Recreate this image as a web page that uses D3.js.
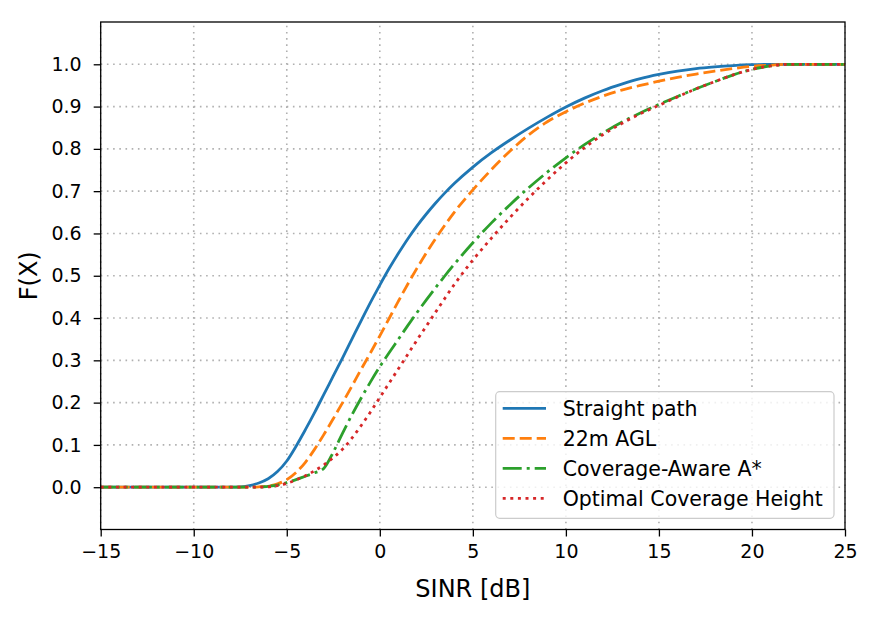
<!DOCTYPE html>
<html>
<head>
<meta charset="utf-8">
<script src="https://cdn.jsdelivr.net/npm/d3@7"></script>
<style>
  body { margin: 0; background: #fff; }
  svg { display: block; font-family: "DejaVu Sans", sans-serif; }
</style>
</head>
<body>
<div id="chart"></div>
<script>
// SINR sample points [dB]
const sinr = [-15, -10, -8, -7.5, -7, -6.5, -6, -5.5, -5, -4.5, -4, -3.5, -3, -2.5, -2, -1.5, -1, -0.5,
  0, 0.5, 1, 1.5, 2, 2.5, 3, 3.5, 4, 5, 6, 7, 8, 9, 10, 11, 12, 13, 14, 15, 16, 17, 18, 19, 20, 21, 22, 25];

// CDF values
const straightPath = [0, 0, 0, 0.001, 0.004, 0.01, 0.02, 0.037, 0.062, 0.097, 0.136, 0.177, 0.22, 0.263, 0.306, 0.35, 0.394, 0.437,
  0.478, 0.517, 0.553, 0.587, 0.618, 0.646, 0.672, 0.696, 0.718, 0.757, 0.791, 0.821, 0.849, 0.875, 0.899, 0.92, 0.938, 0.953, 0.966, 0.976, 0.984, 0.99, 0.994, 0.997, 0.999, 1, 1, 1];
const agl22m = [0, 0, 0, 0, 0, 0.001, 0.003, 0.008, 0.018, 0.035, 0.059, 0.09, 0.125, 0.162, 0.2, 0.239, 0.279, 0.318,
  0.358, 0.399, 0.44, 0.48, 0.518, 0.554, 0.588, 0.62, 0.65, 0.703, 0.751, 0.795, 0.833, 0.864, 0.888, 0.908, 0.925, 0.939, 0.95, 0.96, 0.969, 0.977, 0.984, 0.99, 0.995, 0.998, 1, 1];
const coverageAware = [0, 0, 0, 0, 0, 0, 0.002, 0.005, 0.011, 0.018, 0.026, 0.034, 0.045, 0.083, 0.128, 0.171, 0.211, 0.249,
  0.285, 0.318, 0.35, 0.382, 0.413, 0.443, 0.472, 0.5, 0.527, 0.578, 0.625, 0.668, 0.708, 0.745, 0.779, 0.81, 0.838, 0.863, 0.885, 0.905, 0.924, 0.942, 0.959, 0.975, 0.988, 0.996, 1, 1];
const optimalHeight = [0, 0, 0, 0, 0, 0, 0.001, 0.004, 0.009, 0.017, 0.027, 0.039, 0.053, 0.07, 0.09, 0.116, 0.146, 0.178,
  0.212, 0.246, 0.28, 0.314, 0.348, 0.381, 0.414, 0.447, 0.479, 0.537, 0.589, 0.638, 0.684, 0.727, 0.767, 0.803, 0.834, 0.86, 0.883, 0.903, 0.923, 0.942, 0.959, 0.975, 0.988, 0.996, 1, 1];

const seriesNames = ['Straight path', '22m AGL', 'Coverage-Aware A*', 'Optimal Coverage Height'];
const seriesValues = [straightPath, agl22m, coverageAware, optimalHeight];
const colors = ['#1f77b4', '#ff7f0e', '#2ca02c', '#d62728'];
const dashes = [null, '12,5', '19,5,3,5', '3,4.6'];

const xTicks = [-15, -10, -5, 0, 5, 10, 15, 20, 25];
const yTicks = [0, 0.1, 0.2, 0.3, 0.4, 0.5, 0.6, 0.7, 0.8, 0.9, 1.0];

const width = 873, height = 619;
const margin = { top: 22, right: 28, bottom: 89.5, left: 100.7 };

const svg = d3.select('#chart').append('svg')
  .attr('width', width)
  .attr('height', height);

const x = d3.scaleLinear().domain([-15, 25]).range([margin.left, width - margin.right]);
const y = d3.scaleLinear().domain([-0.1, 1.1]).range([height - margin.bottom, margin.top]);

// grid
const grid = svg.append('g');
grid.selectAll('.vgrid').data(xTicks).enter().append('line')
  .attr('x1', d => x(d)).attr('x2', d => x(d))
  .attr('y1', y(-0.1)).attr('y2', y(1.1))
  .attr('stroke', '#b0b0b0').attr('stroke-width', 1.6).attr('stroke-dasharray', '1.6,4.6');
grid.selectAll('.hgrid').data(yTicks).enter().append('line')
  .attr('y1', d => y(d)).attr('y2', d => y(d))
  .attr('x1', x(-15)).attr('x2', x(25))
  .attr('stroke', '#b0b0b0').attr('stroke-width', 1.6).attr('stroke-dasharray', '1.6,4.6');

// curves
const line = d3.line()
  .x(d => x(d[0]))
  .y(d => y(d[1]))
  .curve(d3.curveMonotoneX);

seriesValues.forEach((vals, i) => {
  svg.append('path')
    .datum(sinr.map((s, j) => [s, vals[j]]))
    .attr('fill', 'none')
    .attr('stroke', colors[i])
    .attr('stroke-width', 2.8)
    .attr('stroke-dasharray', dashes[i])
    .attr('d', line);
});

// axes
const xAxis = svg.append('g')
  .attr('transform', `translate(0,${y(-0.1)})`)
  .call(d3.axisBottom(x).tickValues(xTicks).tickSize(7).tickPadding(8).tickFormat(d3.format('d')));
const yAxis = svg.append('g')
  .attr('transform', `translate(${x(-15)},0)`)
  .call(d3.axisLeft(y).tickValues(yTicks).tickSize(7).tickPadding(12).tickFormat(d3.format('.1f')));

[xAxis, yAxis].forEach(a => {
  a.select('.domain').remove();
  a.selectAll('.tick line').attr('stroke', '#000').attr('stroke-width', 1.3);
  a.selectAll('.tick text').attr('fill', '#000').style('font-size', '19px').style('font-family', '"DejaVu Sans", sans-serif');
});

// frame
svg.append('rect')
  .attr('x', x(-15)).attr('y', y(1.1))
  .attr('width', x(25) - x(-15)).attr('height', y(-0.1) - y(1.1))
  .attr('fill', 'none').attr('stroke', '#000').attr('stroke-width', 1.3);

// axis labels
svg.append('text')
  .attr('x', (x(-15) + x(25)) / 2).attr('y', 597)
  .attr('text-anchor', 'middle')
  .style('font-size', '24px')
  .text('SINR [dB]');
svg.append('text')
  .attr('transform', `translate(37,${(y(-0.1) + y(1.1)) / 2}) rotate(-90)`)
  .attr('text-anchor', 'middle')
  .style('font-size', '24px')
  .text('F(X)');

// legend
const legend = svg.append('g');
legend.append('rect')
  .attr('x', 495.7).attr('y', 391.7)
  .attr('width', 338.3).attr('height', 126.6)
  .attr('rx', 4)
  .attr('fill', '#fff').attr('fill-opacity', 0.8)
  .attr('stroke', '#cccccc').attr('stroke-width', 1.2);

seriesNames.forEach((name, i) => {
  const cy = 408.3 + i * 30;
  legend.append('line')
    .attr('x1', 502.7).attr('x2', 546)
    .attr('y1', cy).attr('y2', cy)
    .attr('stroke', colors[i]).attr('stroke-width', 2.8)
    .attr('stroke-dasharray', dashes[i]);
  legend.append('text')
    .attr('x', 562.7).attr('y', cy)
    .attr('dy', '0.36em')
    .style('font-size', '20.5px')
    .text(name);
});
</script>
</body>
</html>
